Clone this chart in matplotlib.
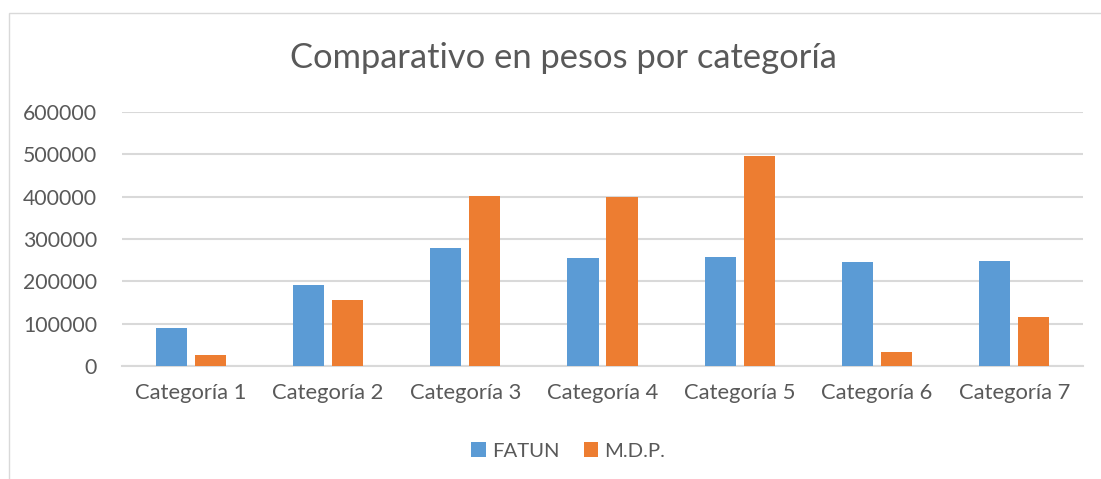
import numpy as np
import matplotlib.pyplot as plt
from matplotlib.patches import Rectangle

# Datos
categorias = ["Categoría 1", "Categoría 2", "Categoría 3", "Categoría 4",
              "Categoría 5", "Categoría 6", "Categoría 7"]
fatun = [90000, 191000, 279000, 255000, 257000, 245000, 247000]
mdp = [27000, 155000, 401000, 399000, 496000, 32000, 115000]
ticks_y = [0, 100000, 200000, 300000, 400000, 500000, 600000]

azul = "#5B9BD5"
naranja = "#ED7D31"
gris_texto = "#595959"

plt.rcParams['font.family'] = ['Lato', 'DejaVu Sans']

fig = plt.figure(figsize=(11.01, 4.79), dpi=100)
ax = fig.add_axes([122 / 1101, 1 - 366 / 479, (1083 - 122) / 1101, (366 - 112) / 479])

x = np.arange(len(categorias))
ancho = 0.226
desplaz = 0.142
ax.bar(x - desplaz, fatun, ancho, color=azul, label="FATUN", zorder=3)
ax.bar(x + desplaz, mdp, ancho, color=naranja, label="M.D.P.", zorder=3)

ax.set_xlim(-0.5, len(categorias) - 0.5)
ax.set_ylim(0, 600000)
ax.set_yticks(ticks_y)
ax.set_yticklabels([str(t) for t in ticks_y])
ax.set_xticks(x)
ax.set_xticklabels(categorias)
ax.yaxis.grid(True, color="#D9D9D9", linewidth=1.5, zorder=0)
ax.set_axisbelow(True)

for lado in ["top", "right", "left"]:
    ax.spines[lado].set_visible(False)
ax.spines["bottom"].set_color("#D9D9D9")
ax.spines["bottom"].set_linewidth(1.5)
ax.tick_params(axis="y", length=0, labelsize=15.3, colors=gris_texto, pad=18)
ax.tick_params(axis="x", length=0, labelsize=15.8, colors=gris_texto, pad=12)

fig.text(0.512, 1 - 58 / 479, "Comparativo en pesos por categoría", ha="center", va="center",
         fontsize=24.8, color=gris_texto)

fig.legend(loc="center", bbox_to_anchor=(0.516, 1 - 451 / 479), ncol=2, frameon=False,
           fontsize=14.6, labelcolor=gris_texto, handlelength=0.7, handleheight=0.7,
           handletextpad=0.3, columnspacing=1.2)

# marco del grafico
fig.patches.append(Rectangle((9 / 1101, -0.01), 1.2, 1 - 13 / 479 + 0.01, transform=fig.transFigure,
                             fill=False, edgecolor="#D9D9D9", linewidth=1))

fig.savefig("out.png", dpi=100)
